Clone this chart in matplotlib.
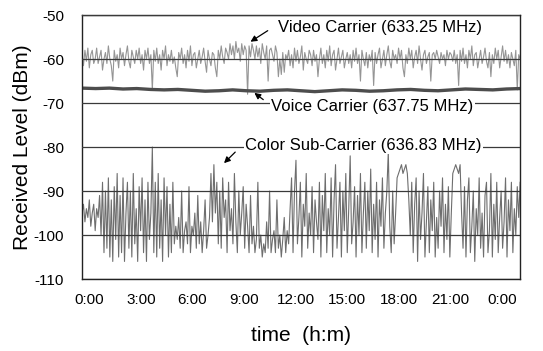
import matplotlib
matplotlib.use("Agg")
import matplotlib.pyplot as plt
import numpy as np

plt.rcParams['font.family'] = ['Liberation Sans', 'DejaVu Sans']
plt.rcParams['axes.unicode_minus'] = False

# received level (dBm) left to right over 24 h
video_carrier = [
    -59, -61.5, -58, -60.5, -57.5, -62, -59, -58, -61, -60, -57.5, -61, -59.5, -58, -62.5, -60, -58.5, -61, -57, -60,
    -61.5, -65, -58, -60.5, -59, -62, -57.5, -60, -58.5, -61.5, -59, -57, -60.5, -62, -58, -59.5, -61, -58, -60, -57.5,
    -61, -59, -62.5, -58, -60, -57.5, -61, -59, -67, -58, -60.5, -57.5, -61, -59, -62.5, -58, -60, -57, -61.5, -59,
    -60.5, -58, -61, -59.5, -62, -64, -58.5, -60, -57.5, -61, -59, -62, -58, -60.5, -57, -61.5, -59, -58.5, -62, -60,
    -58, -61, -59.5, -57.5, -60.5, -63, -58, -60, -61.5, -58.5, -59, -62, -64, -58, -60, -57, -59.5, -61, -57.5, -58.5,
    -60, -56.5, -59, -57, -60, -56, -58.5, -57.5, -60.5, -56.5, -59, -57, -58, -68, -57, -59.5, -56.5, -58, -60, -57,
    -59.5, -57.5, -61, -56.5, -58.5, -60, -57, -65, -58, -57.5, -59, -60.5, -57, -58.5, -64, -60, -63.5, -58.5, -63, -59,
    -60, -58, -61.5, -59, -62, -57.5, -60.5, -58, -61, -59.5, -57, -62.5, -58.5, -60, -61, -58, -59, -61.5, -58, -60.5,
    -59, -64, -60, -57.5, -61, -59, -62, -58, -60.5, -57, -61.5, -59, -58, -62.5, -60, -57.5, -61, -59.5, -58, -62,
    -60, -58.5, -61, -59, -62, -58, -60.5, -57.5, -61, -59, -65, -58, -60, -61.5, -58.5, -62, -59, -60.5, -58, -66,
    -58.5, -61, -59, -57.5, -62, -60, -58, -61.5, -59, -57, -60.5, -62, -58, -60, -59, -61, -57.5, -60, -58, -62,
    -64, -59, -61, -57.5, -60, -58, -62, -59.5, -58, -61, -57, -60, -62.5, -59, -58, -61, -59.5, -58.5, -65, -59,
    -58.5, -60, -58, -59.5, -61, -58.5, -60, -59, -61.5, -58, -60, -58.5, -59, -60.5, -58, -61, -59, -66, -58, -60.5,
    -57.5, -61, -59, -62, -58, -60, -57, -61.5, -59, -58.5, -62, -60, -58, -61, -59.5, -57.5, -60.5, -62, -58.5, -64,
    -59, -61, -57.5, -60, -58, -62, -59.5, -57, -60.5, -58, -61, -59, -62, -58.5, -60, -61.5, -58, -67, -59, -60,
]

voice_carrier = [
    -66.6, -66.7, -66.6, -66.8, -66.7, -66.9, -67.0, -66.9, -67.1, -67.3, -67.2,
    -67.0, -67.2, -67.3, -67.1, -67.0, -67.2, -67.4, -67.2, -67.0, -67.1, -67.3,
    -67.2, -67.0, -66.9, -67.1, -67.2, -67.0, -66.8, -66.9, -67.0, -66.8, -66.7,
]

color_subcarrier = [
    -95, -93, -97, -94, -96, -92, -98, -95, -93, -99, -94, -96, -91, -100, -88, -104, -90, -103, -87, -105,
    -92, -106, -89, -101, -86, -105, -91, -104, -87, -106, -95, -88, -103, -90, -105, -86, -102, -94, -106, -89,
    -99, -87, -104, -92, -106, -88, -101, -95, -80, -104, -88, -105, -86, -103, -92, -106, -87, -100, -89, -105,
    -93, -104, -88, -102, -98, -101, -96, -103, -90, -104, -99, -97, -102, -89, -104, -98, -100, -95, -103, -91,
    -102, -97, -104, -99, -92, -103, -100, -96, -86, -97, -84, -95, -88, -102, -90, -103, -87, -96, -92, -104,
    -88, -99, -94, -102, -86, -97, -104, -90, -100, -95, -89, -103, -93, -98, -104, -91, -102, -98, -104, -101,
    -88, -103, -100, -105, -102, -104, -97, -103, -90, -104, -101, -99, -104, -92, -103, -100, -105, -101, -96, -104,
    -99, -102, -94, -87, -104, -90, -83, -102, -96, -88, -105, -93, -98, -86, -103, -95, -100, -89, -104, -92,
    -97, -101, -88, -105, -91, -99, -86, -104, -94, -100, -87, -105, -92, -84, -103, -96, -88, -105, -90, -99,
    -86, -104, -94, -82, -102, -97, -89, -105, -91, -100, -86, -104, -95, -88, -103, -90, -99, -85, -104, -93,
    -101, -88, -105, -92, -98, -87, -103, -95, -90, -81, -98, -104, -90, -102, -95, -87, -86, -85, -84, -86,
    -85, -84, -86, -92, -100, -88, -104, -93, -87, -106, -90, -101, -95, -86, -105, -97, -89, -104, -92, -99,
    -88, -105, -96, -103, -90, -98, -87, -104, -93, -101, -89, -105, -95, -86, -85, -84, -85, -86, -84, -95,
    -103, -89, -105, -92, -87, -104, -98, -90, -106, -94, -100, -87, -103, -95, -105, -91, -88, -104, -99, -86,
    -105, -93, -101, -88, -104, -96, -90, -103, -97, -87, -105, -92, -99, -88, -104, -94, -100, -89, -96, -88,
]

tick_labels = ['0:00', '3:00', '6:00', '9:00', '12:00', '15:00', '18:00', '21:00', '0:00']

fig = plt.figure(figsize=(5.43, 3.51), dpi=100)
ax = fig.add_axes([0.151, 0.205, 0.807, 0.752])

ax.plot(np.linspace(0, 24, len(video_carrier)), video_carrier, color='#959595', lw=0.8)
ax.plot(np.linspace(0, 24, len(color_subcarrier)), color_subcarrier, color='#6e6e6e', lw=0.8)
ax.plot(np.linspace(0, 24, len(voice_carrier)), voice_carrier, color='#4d4d4d', lw=2.4)

ax.set_xlim(0, 24)
ax.set_ylim(-110, -50)
ax.set_yticks(np.arange(-110, -49, 10))
ax.set_xticks(np.linspace(0.4, 23.0, 9))
ax.set_xticklabels(tick_labels)
ax.tick_params(axis='both', length=0, labelsize=11)
ax.tick_params(axis='y', pad=13)
ax.tick_params(axis='x', pad=10)
ax.grid(axis='y', color='#3a3a3a', lw=0.9)
ax.grid(axis='x', visible=False)
ax.set_axisbelow(False)
for s in ax.spines.values():
    s.set_color('#222222')
    s.set_linewidth(1.0)

ax.set_xlabel('time  (h:m)', fontsize=15, labelpad=14)
ax.set_ylabel('Received Level (dBm)', fontsize=15, labelpad=1)

arrow = dict(arrowstyle='-|>', color='black', lw=0.9, mutation_scale=9)
box = dict(facecolor='white', edgecolor='none', pad=1)
ax.text(10.74, -52.9, 'Video Carrier (633.25 MHz)', fontsize=12, va='center', bbox=box, zorder=5)
ax.annotate('', xy=(9.1, -56.4), xytext=(10.3, -53.2), arrowprops=arrow, zorder=5)
ax.text(10.35, -70.8, 'Voice Carrier (637.75 MHz)', fontsize=12, va='center', bbox=box, zorder=5)
ax.annotate('', xy=(9.32, -67.3), xytext=(10.05, -69.6), arrowprops=arrow, zorder=5)
ax.text(8.93, -79.6, 'Color Sub-Carrier (636.83 MHz)', fontsize=12, va='center', bbox=box, zorder=5)
ax.annotate('', xy=(7.67, -84.1), xytext=(8.5, -80.7), arrowprops=arrow, zorder=5)

plt.savefig('out.png', dpi=100)
